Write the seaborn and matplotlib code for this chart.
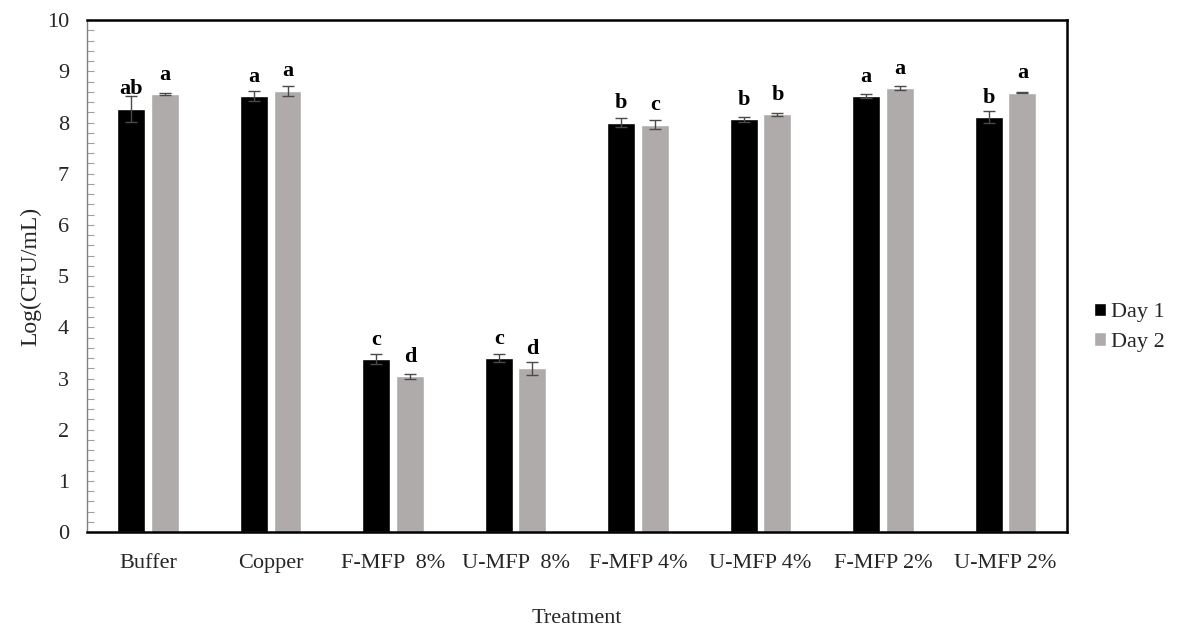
import numpy as np
import pandas as pd
import matplotlib
matplotlib.use("Agg")
import matplotlib.pyplot as plt
from matplotlib.ticker import MultipleLocator
import seaborn as sns

treatments = ["Buffer", "Copper", "F-MFP  8%", "U-MFP  8%",
              "F-MFP 4%", "U-MFP 4%", "F-MFP 2%", "U-MFP 2%"]
days = ["Day 1", "Day 2"]
day1_mean = [8.27, 8.52, 3.38, 3.40, 8.00, 8.06, 8.52, 8.11]
day2_mean = [8.55, 8.62, 3.04, 3.20, 7.96, 8.16, 8.67, 8.58]
day1_err = [0.25, 0.10, 0.09, 0.075, 0.09, 0.055, 0.04, 0.12]
day2_err = [0.02, 0.10, 0.055, 0.13, 0.085, 0.03, 0.035, 0.01]
day1_letters = ["ab", "a", "c", "c", "b", "b", "a", "b"]
day2_letters = ["a", "a", "d", "d", "c", "b", "a", "a"]

sns.set_theme(style="white")
plt.rcParams["font.family"] = ["Liberation Serif", "DejaVu Serif"]

df = pd.DataFrame({
    "Treatment": treatments * 2,
    "Day": [days[0]] * len(treatments) + [days[1]] * len(treatments),
    "Value": day1_mean + day2_mean,
})

fig, ax = plt.subplots(figsize=(11.8, 6.29), dpi=100)
fig.subplots_adjust(left=0.0737, right=0.904, top=0.968, bottom=0.154)

palette = {"Day 1": "#000000", "Day 2": "#afabab"}
sns.barplot(data=df, x="Treatment", y="Value", hue="Day", order=treatments,
            hue_order=days, palette=palette, width=0.55, gap=0.17,
            errorbar=None, saturation=1, ax=ax)

# Error bars, plus the significance letter set a fixed distance above each bar
bars = ax.patches[:2 * len(treatments)]
groups = [(bars[:len(treatments)], day1_mean, day1_err, day1_letters),
          (bars[len(treatments):], day2_mean, day2_err, day2_letters)]
for patches, means, errs, letters in groups:
    for p, m, e, lab in zip(patches, means, errs, letters):
        xc = p.get_x() + p.get_width() / 2
        ax.errorbar(xc, m, yerr=e, fmt="none", ecolor="#4a4a4a",
                    elinewidth=1.0, capsize=4, capthick=1.0, zorder=3)
        ax.text(xc, m + 0.28, lab, ha="center", va="baseline",
                fontsize=16, fontweight="bold", color="black", zorder=4)

ax.set_ylim(0, 10)
ax.set_xlim(-0.5, len(treatments) - 0.5)
ax.yaxis.set_major_locator(MultipleLocator(1))
ax.yaxis.set_minor_locator(MultipleLocator(0.2))
ax.tick_params(axis="y", which="both", direction="in", length=5,
               width=0.8, color="#a0a0a0", left=True, labelsize=16,
               pad=13)
ax.tick_params(axis="x", which="both", length=0, labelsize=16, pad=16)

for side in ["top", "right", "bottom"]:
    ax.spines[side].set_color("black")
    ax.spines[side].set_linewidth(1.8)
ax.spines["left"].set_color("#808080")
ax.spines["left"].set_linewidth(1.0)

ax.set_xlabel("Treatment", fontsize=16, labelpad=26)
ax.set_ylabel("Log(CFU/mL)", fontsize=17, labelpad=4)

handles, labels = ax.get_legend_handles_labels()
ax.legend(handles, labels, loc="center left", bbox_to_anchor=(1.012, 0.4),
          frameon=False, fontsize=16, handlelength=0.55, handleheight=0.55,
          handletextpad=0.2, labelspacing=0.45, borderaxespad=0.3)

fig.savefig("out.png", dpi=100)
